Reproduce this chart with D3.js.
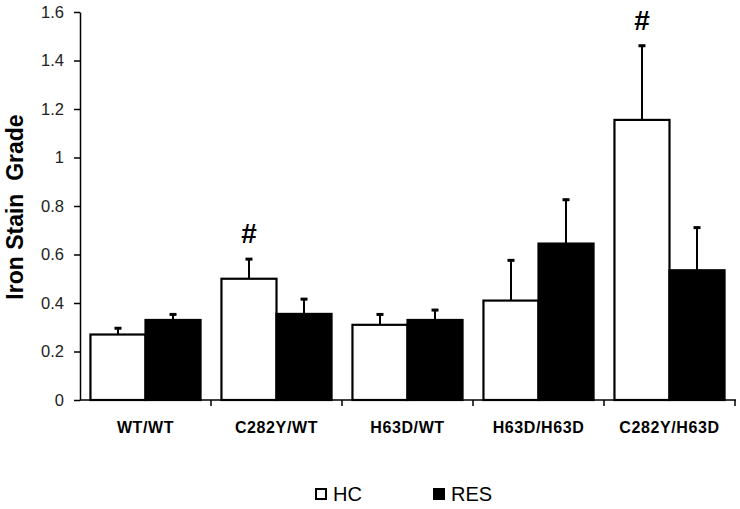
<!DOCTYPE html>
<html><head><meta charset="utf-8">
<script src="https://cdn.jsdelivr.net/npm/d3@7"></script>
<style>body{margin:0;background:#fff}svg{display:block;font-family:"Liberation Sans",Arial,sans-serif}</style>
</head><body><svg id="c" width="740" height="509"></svg>
<script>
const categories = ["WT/WT","C282Y/WT","H63D/WT","H63D/H63D","C282Y/H63D"];
const series = ["HC","RES"];
const hcValues = [0.27,0.50,0.31,0.41,1.155];
const hcErrors = [0.03,0.085,0.047,0.17,0.31];
const resValues = [0.33,0.355,0.33,0.645,0.535];
const resErrors = [0.027,0.065,0.045,0.185,0.18];
const significant = [false,true,false,false,true];
const yTicks = [0,0.2,0.4,0.6,0.8,1,1.2,1.4,1.6];

const svg = d3.select("#c");
const x = d3.scaleBand().domain(categories).range([80,735]).paddingInner(0).paddingOuter(0);
const xs = d3.scaleBand().domain(series).range([0,x.bandwidth()]).paddingInner(0).paddingOuter(0.19);
const y = d3.scaleLinear().domain([0,1.6]).range([400,12]);
const fills = {HC:"#fff",RES:"#000"};
const vals = {HC:hcValues,RES:resValues};
const errs = {HC:hcErrors,RES:resErrors};

// bars
series.forEach(s=>{
  const g = svg.append("g");
  categories.forEach((c,i)=>{
    const x0 = x(c)+xs(s), w = xs.bandwidth();
    const v = vals[s][i], e = errs[s][i];
    const cx = x0 + w/2;
    g.append("line").attr("x1",cx).attr("x2",cx).attr("y1",y(v)).attr("y2",y(v+e)).attr("stroke","#000").attr("stroke-width",2);
    g.append("line").attr("x1",cx-3.5).attr("x2",cx+3.5).attr("y1",y(v+e)+1).attr("y2",y(v+e)+1).attr("stroke","#000").attr("stroke-width",3);
    g.append("rect").attr("x",x0).attr("y",y(v)).attr("width",w).attr("height",y(0)-y(v))
      .attr("fill",fills[s]).attr("stroke","#000").attr("stroke-width",2.2);
  });
});

// significance
categories.forEach((c,i)=>{
  if(!significant[i]) return;
  const cx = x(c)+xs("HC")+xs.bandwidth()/2;
  svg.append("text").attr("x",cx).attr("y",y(hcValues[i]+hcErrors[i])-15).attr("text-anchor","middle")
    .attr("font-size",28).attr("font-weight","bold").text("#");
});

// y axis
const ya = svg.append("g").attr("transform","translate(80,0)")
  .call(d3.axisLeft(y).tickValues(yTicks).tickSize(6).tickPadding(10).tickSizeOuter(0).tickFormat(d=>d3.format("")(+d.toFixed(1))));
ya.select(".domain").attr("stroke-width",1.5);
ya.selectAll(".tick line").attr("stroke-width",1.5);
ya.selectAll(".tick text").attr("font-size",16.5).attr("font-family","Liberation Sans, Arial").attr("fill","#222");

// x axis
const xa = svg.append("g").attr("transform","translate(0,400)");
xa.append("line").attr("x1",80).attr("x2",736).attr("y1",0).attr("y2",0).attr("stroke","#000").attr("stroke-width",1.5);
categories.concat(["_end"]).forEach((c,i)=>{
  const px = i<categories.length ? x(c) : x.range()[1];
  if(i===0) return;
  xa.append("line").attr("x1",px).attr("x2",px).attr("y1",0).attr("y2",6).attr("stroke","#000").attr("stroke-width",1.5);
});
categories.forEach(c=>{
  xa.append("text").attr("x",x(c)+x.bandwidth()/2).attr("y",33).attr("text-anchor","middle")
    .attr("font-size",16).attr("font-weight","bold").attr("letter-spacing",0.6).text(c);
});

// y title
svg.append("text").attr("transform","translate(23,207) rotate(-90)").attr("text-anchor","middle")
  .attr("font-size",23).attr("font-weight","bold").style("white-space","pre").text("Iron Stain  Grade");

// legend
const legend = [{s:"HC",x:315},{s:"RES",x:433}];
legend.forEach(l=>{
  svg.append("rect").attr("x",l.x+1).attr("y",489).attr("width",10).attr("height",10)
    .attr("fill",fills[l.s]).attr("stroke","#000").attr("stroke-width",2);
  svg.append("text").attr("x",l.x+18).attr("y",501).attr("font-size",20).text(l.s);
});
</script></body></html>
